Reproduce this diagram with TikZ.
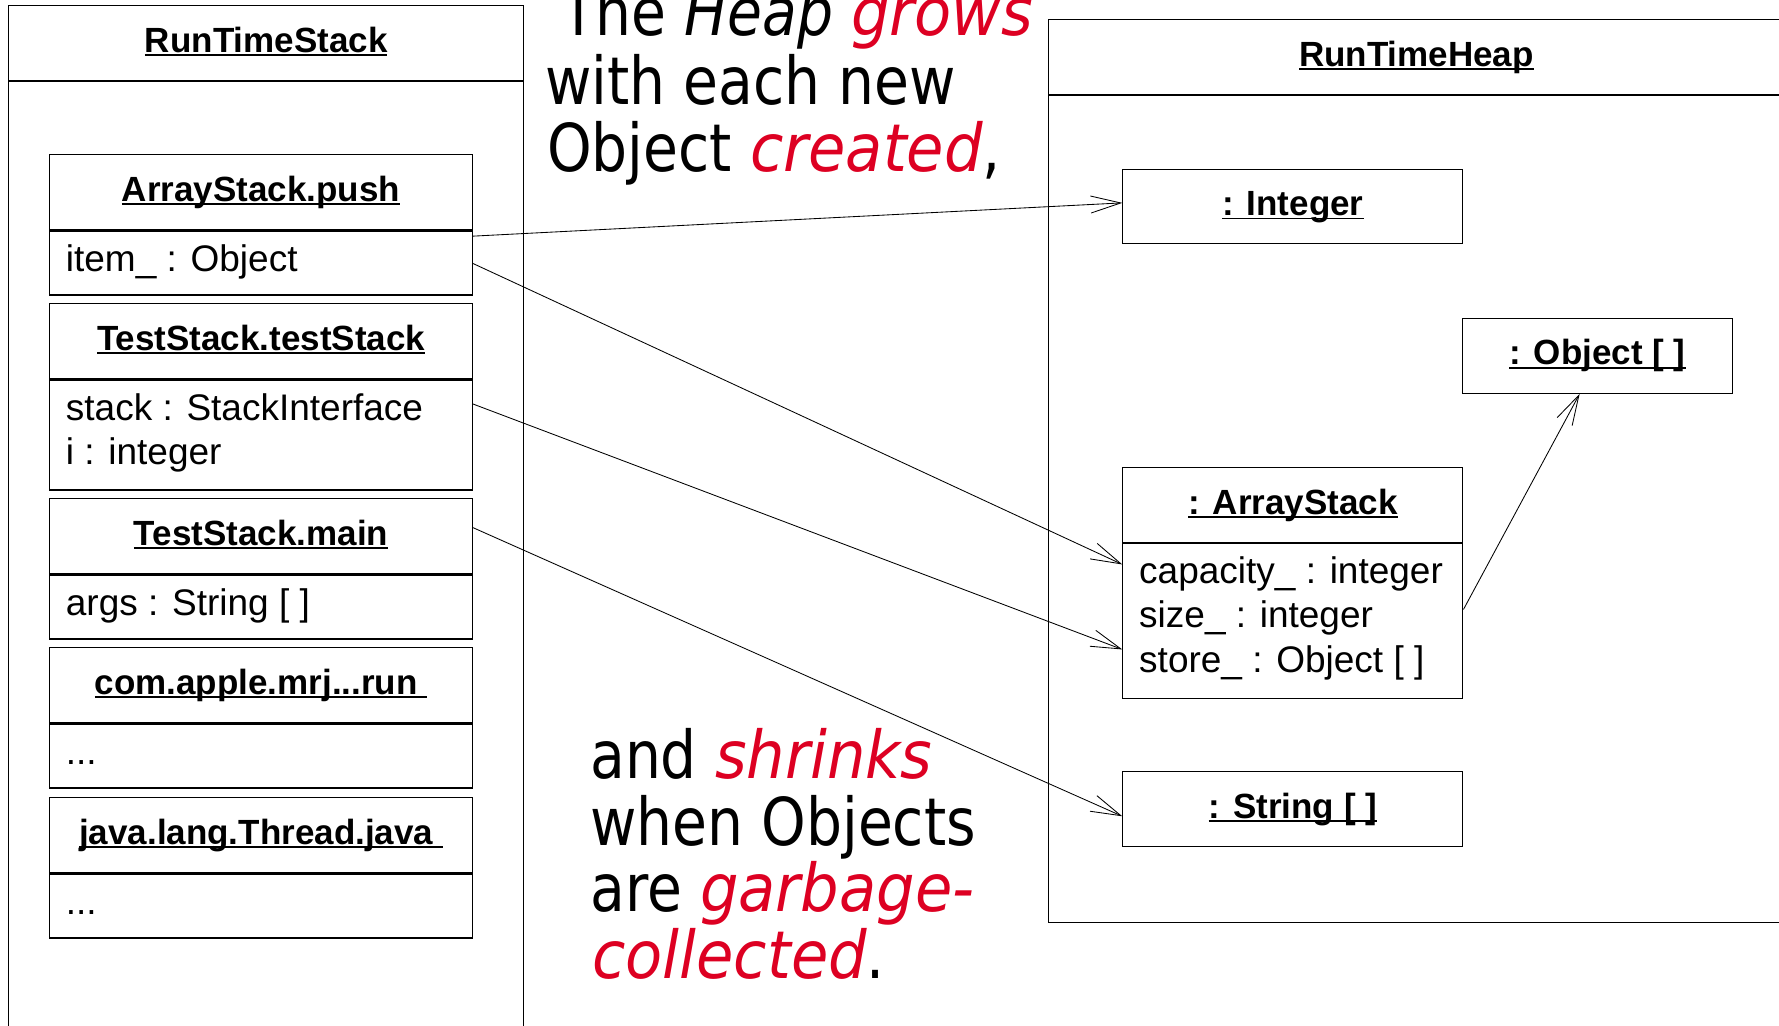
\documentclass[tikz,border=0pt]{standalone}
\usepackage{fontspec}
\usepackage{graphicx}
\setmainfont{Liberation Sans}
\newfontfamily\handfont{DejaVu Sans}
\usetikzlibrary{arrows.meta,calc}
\definecolor{handred}{RGB}{221,0,34}

% underlined title: the rule runs just under the baseline, through descenders
\newcommand\ultitle[1]{\setbox0\hbox{#1}\rlap{\rule[-3.9pt]{\wd0}{1.8pt}}\box0}
\newcommand\titlefont{\fontsize{35}{40}\selectfont\bfseries}
\newcommand\attrfont{\fontsize{37}{44.5}\selectfont}
\newcommand\handline[1]{\scalebox{0.86}[1]{#1}}
\newcommand\hl[1]{\textcolor{handred}{\scalebox{1.07}[1]{\itshape #1}}}

\tikzset{
  boxline/.style={draw, line width=1.15pt, rectangle, inner sep=0pt, anchor=north west},
  hdr/.style={boxline, font=\titlefont, text height=25pt, text depth=7pt},
  attr/.style={inner sep=0pt, anchor=base west, font=\attrfont},
  link/.style={line width=0.85pt, -{Straight Barb[length=30pt,width=17pt]}},
  handtext/.style={inner sep=0pt, anchor=base west, font={\handfont\fontsize{66}{70}\selectfont}},
}

\begin{document}
\begin{tikzpicture}[x=1pt, y=-1pt]
\useasboundingbox[fill=white] (0,0) rectangle (1779,1025);

% ---------- run-time stack ----------
\node[hdr, minimum width=514.7pt, minimum height=75pt] (stackH) at (8.3,5) {\ultitle{RunTimeStack}};
\node[boxline, minimum width=514.7pt, minimum height=1000pt] (stackB) at (stackH.south west) {};

\node[hdr, minimum width=422.4pt, minimum height=75pt] (pushH) at (49.3,154.3) {\ultitle{ArrayStack.push}};
\node[boxline, minimum width=422.4pt, minimum height=64pt] (pushB) at (pushH.south west) {};
\node[attr] (pushA1) at ($(pushB.north west)+(16.4,40.7)$) {item\_ : Object};

\node[hdr, minimum width=422.4pt, minimum height=75pt] (tsH) at (49.3,303.3) {\ultitle{TestStack.testStack}};
\node[boxline, minimum width=422.4pt, minimum height=110pt] (tsB) at (tsH.south west) {};
\node[attr] (tsA1) at ($(tsB.north west)+(16.4,40.7)$) {stack : StackInterface};
\node[attr] (tsA2) at ($(tsB.north west)+(16.4,85.2)$) {i : integer};

\node[hdr, minimum width=422.4pt, minimum height=75pt] (mainH) at (49.3,498.3) {\ultitle{TestStack.main}};
\node[boxline, minimum width=422.4pt, minimum height=64pt] (mainB) at (mainH.south west) {};
\node[attr] (mainA1) at ($(mainB.north west)+(16.4,40.7)$) {args : String [ ]};

\node[hdr, minimum width=422.4pt, minimum height=75pt] (comH) at (49.3,647.3) {\ultitle{com.apple.mrj...run\ }};
\node[boxline, minimum width=422.4pt, minimum height=64pt] (comB) at (comH.south west) {};
\node[attr] (comA1) at ($(comB.north west)+(16.4,40.7)$) {...};

\node[hdr, minimum width=422.4pt, minimum height=75pt] (javaH) at (49.3,797.3) {\ultitle{java.lang.Thread.java\ }};
\node[boxline, minimum width=422.4pt, minimum height=64pt] (javaB) at (javaH.south west) {};
\node[attr] (javaA1) at ($(javaB.north west)+(16.4,40.7)$) {...};

% ---------- run-time heap ----------
\node[hdr, minimum width=735pt, minimum height=75pt] (heapH) at (1048.3,19) {\ultitle{RunTimeHeap}};
\node[boxline, minimum width=735pt, minimum height=826.7pt] (heapB) at (heapH.south west) {};

\node[hdr, minimum width=340pt, minimum height=74.6pt] (intBox) at (1122.3,168.7) {\ultitle{: Integer}};
\node[hdr, minimum width=270.3pt, minimum height=75pt] (objBox) at (1461.7,317.7) {\ultitle{: Object [ ]}};

\node[hdr, minimum width=340pt, minimum height=74.4pt] (asH) at (1122.3,467.3) {\ultitle{: ArrayStack}};
\node[boxline, minimum width=340pt, minimum height=155pt] (asB) at (asH.south west) {};
\node[attr] (asA1) at ($(asB.north west)+(16.7,41)$) {capacity\_ : integer};
\node[attr] (asA2) at ($(asB.north west)+(16.7,85)$) {size\_ : integer};
\node[attr] (asA3) at ($(asB.north west)+(16.7,130)$) {store\_ : Object [ ]};

\node[hdr, minimum width=340pt, minimum height=75pt] (strBox) at (1122.3,771) {\ultitle{: String [ ]}};

% ---------- references ----------
\draw[link] ($(pushB.north east)+(0,5.7)$) -- ($(intBox.west)+(0,-3.7)$);
\draw[link] ($(pushB.east)+(0,0.4)$) -- ($(asB.north west)+(0,21.6)$);
\draw[link] ($(tsB.north east)+(0,24.5)$) -- ($(asB.north west)+(0,106.6)$);
\draw[link] ($(mainH.east)+(0,-8.8)$) -- ($(strBox.west)+(0,7.2)$);
\draw[link] ($(asB.north east)+(0,66.6)$) -- ($(objBox.south)+(-17.8,0)$);

% ---------- commentary ----------
\node[handtext] (grow1) at (561,36) {\handline{The \textit{Heap} \hl{grows}}};
\node[handtext] (grow2) at (545,104) {\handline{with each new}};
\node[handtext] (grow3) at (547,171.7) {\handline{Object \hl{created},}};

\node[handtext] (shr1) at (590,778.3) {\handline{and \hl{shrinks}}};
\node[handtext] (shr2) at (590,845) {\handline{when Objects}};
\node[handtext] (shr3) at (590,911.7) {\handline{are \hl{garbage-}}};
\node[handtext] (shr4) at (592,978.3) {\handline{\hl{collected}.}};
\end{tikzpicture}
\end{document}
